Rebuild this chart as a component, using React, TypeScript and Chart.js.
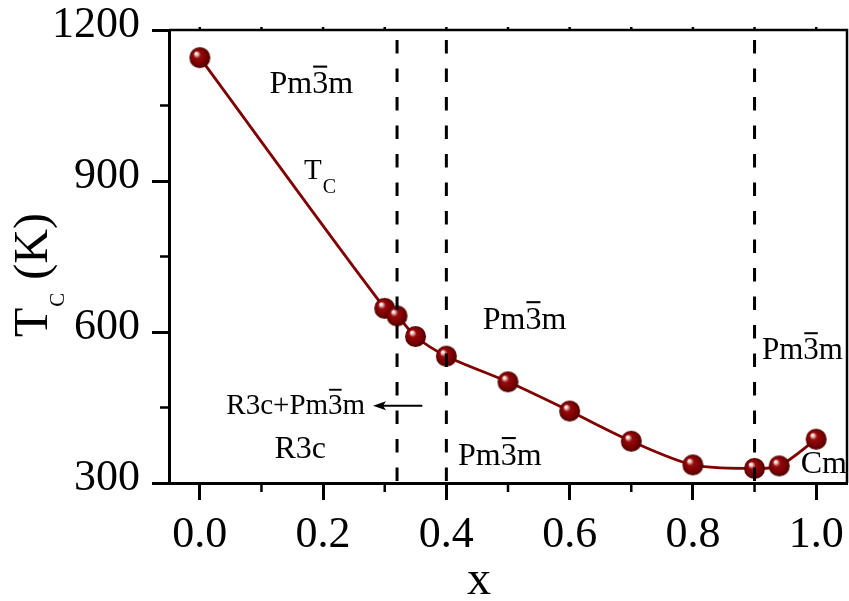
import { useEffect, useRef } from "react";
import { Chart, registerables } from "chart.js";

Chart.register(...registerables);

// Composition x and Curie temperature (K)
const compositionX = [0, 0.3, 0.32, 0.35, 0.4, 0.5, 0.6, 0.7, 0.8, 0.9, 0.94, 1.0];
const curieTemp = [1145, 647, 632, 591, 552, 501, 443, 383, 336, 329, 334, 387];

const xTicks = [0, 0.2, 0.4, 0.6, 0.8, 1.0];
const xMinorTicks = [0.1, 0.3, 0.5, 0.7, 0.9];
const yTicks = [300, 600, 900, 1200];
const yMinorTicks = [450, 750, 1050];

// Structural phase boundaries
const phaseBoundaries = [0.32, 0.4, 0.9];

const SERIF = '"Liberation Serif", "Times New Roman", serif';
const LINE_COLOR = "#800000";

function makeSphere(r: number): HTMLCanvasElement {
  const size = Math.ceil(r * 2) + 2;
  const c = document.createElement("canvas");
  c.width = size;
  c.height = size;
  const g = c.getContext("2d")!;
  const cx = size / 2;
  const cy = size / 2;
  const grad = g.createRadialGradient(cx - r * 0.38, cy - r * 0.42, r * 0.04, cx, cy, r);
  grad.addColorStop(0, "#ffffff");
  grad.addColorStop(0.12, "#f0c4c4");
  grad.addColorStop(0.32, "#960c0c");
  grad.addColorStop(0.75, "#780000");
  grad.addColorStop(1, "#480000");
  g.fillStyle = grad;
  g.beginPath();
  g.arc(cx, cy, r, 0, Math.PI * 2);
  g.fill();
  return c;
}

// "Pm3m" with a bar over the 3 (space group Pm-3m)
function drawPm3m(ctx: CanvasRenderingContext2D, x: number, y: number, size: number) {
  ctx.font = `${size}px ${SERIF}`;
  ctx.textAlign = "left";
  ctx.textBaseline = "alphabetic";
  const w1 = ctx.measureText("Pm").width;
  const w2 = ctx.measureText("3").width;
  ctx.fillText("Pm", x, y);
  ctx.fillText("3", x + w1, y);
  ctx.fillText("m", x + w1 + w2, y);
  ctx.fillRect(x + w1 + 1, y - size * 0.87, w2 - 2, Math.max(1.5, size * 0.065));
  return ctx.measureText("Pm3m").width;
}

const decorPlugin = {
  id: "decor",
  afterDatasetsDraw(chart: any) {
    const { ctx, chartArea: a, scales } = chart;
    const xs = scales.x;
    ctx.save();
    ctx.strokeStyle = "#000";
    ctx.lineWidth = 3;
    ctx.setLineDash([13.5, 15]);
    for (const b of phaseBoundaries) {
      const px = xs.getPixelForValue(b);
      ctx.beginPath();
      ctx.moveTo(px, a.top + 10);
      ctx.lineTo(px, a.bottom);
      ctx.stroke();
    }
    ctx.restore();
  },
  afterDraw(chart: any) {
    const { ctx, chartArea: a, scales } = chart;
    const xs = scales.x;
    const ys = scales.y;
    const X = (v: number) => xs.getPixelForValue(v);
    const Y = (v: number) => ys.getPixelForValue(v);
    ctx.save();
    ctx.strokeStyle = "#000";
    ctx.fillStyle = "#000";
    ctx.lineWidth = 2.5;
    ctx.setLineDash([]);

    // top and right frame
    ctx.beginPath();
    ctx.moveTo(a.left, a.top);
    ctx.lineTo(a.right, a.top);
    ctx.lineTo(a.right, a.bottom);
    ctx.stroke();

    // minor ticks
    ctx.beginPath();
    for (const v of xMinorTicks) {
      const px = X(v);
      ctx.moveTo(px, a.bottom);
      ctx.lineTo(px, a.bottom + 9);
    }
    for (const v of [...xTicks, ...xMinorTicks]) {
      const px = X(v);
      ctx.moveTo(px, a.top);
      ctx.lineTo(px, a.top - 3);
    }
    for (const v of yMinorTicks) {
      const py = Y(v);
      ctx.moveTo(a.left, py);
      ctx.lineTo(a.left - 9, py);
    }
    ctx.stroke();

    // axis titles
    ctx.textAlign = "left";
    ctx.textBaseline = "alphabetic";
    ctx.save();
    ctx.translate(47, 337);
    ctx.rotate(-Math.PI / 2);
    ctx.font = `48px ${SERIF}`;
    ctx.fillText("T", 0, 0);
    const tW = ctx.measureText("T").width;
    ctx.font = `21px ${SERIF}`;
    ctx.fillText("C", tW + 1, 17);
    const cW = ctx.measureText("C").width;
    ctx.font = `48px ${SERIF}`;
    ctx.fillText(" (K)", tW + cW + 2, 0);
    ctx.restore();

    ctx.font = `48px ${SERIF}`;
    ctx.textAlign = "center";
    ctx.fillText("x", 479, 594);

    // phase labels
    drawPm3m(ctx, X(0.113), Y(1074), 32);
    drawPm3m(ctx, X(0.459), Y(606), 32);
    drawPm3m(ctx, X(0.912), Y(546), 31);
    drawPm3m(ctx, X(0.419), Y(336), 32);

    ctx.font = `32px ${SERIF}`;
    ctx.textAlign = "left";
    ctx.fillText("R3c", X(0.121), Y(350));
    ctx.fillText("Cm", X(0.975), Y(320));

    ctx.font = `29px ${SERIF}`;
    const r3cX = X(0.043);
    ctx.fillText("R3c+", r3cX, Y(437));
    const r3cW = ctx.measureText("R3c+").width;
    drawPm3m(ctx, r3cX + r3cW, Y(437), 29);

    // T_C curve label
    ctx.font = `29px ${SERIF}`;
    ctx.fillText("T", X(0.169), Y(904));
    const tw = ctx.measureText("T").width;
    ctx.font = `20px ${SERIF}`;
    ctx.fillText("C", X(0.169) + tw + 1, Y(904) + 14);

    // arrow pointing to the mixed-phase region
    const ay = Y(453.6);
    const ax0 = X(0.361);
    const ax1 = X(0.281);
    ctx.lineWidth = 2;
    ctx.beginPath();
    ctx.moveTo(ax0, ay);
    ctx.lineTo(ax1 + 8, ay);
    ctx.stroke();
    ctx.beginPath();
    ctx.moveTo(ax1, ay);
    ctx.lineTo(ax1 + 13, ay - 4.5);
    ctx.lineTo(ax1 + 10, ay);
    ctx.lineTo(ax1 + 13, ay + 4.5);
    ctx.closePath();
    ctx.fill();

    ctx.restore();
  },
};

export default function App() {
  const canvasRef = useRef<HTMLCanvasElement | null>(null);

  useEffect(() => {
    const canvas = canvasRef.current;
    if (!canvas) return;
    const sphere = makeSphere(10.5);
    const points = compositionX.map((x, i) => ({ x, y: curieTemp[i] }));

    const chart = new Chart(canvas, {
      type: "line",
      data: {
        datasets: [
          {
            label: "TC",
            data: points,
            borderColor: LINE_COLOR,
            borderWidth: 2.8,
            tension: 0.3,
            pointStyle: sphere as any,
            pointRadius: 10.5,
            pointHoverRadius: 10.5,
            fill: false,
          },
        ],
      },
      options: {
        animation: false,
        responsive: false,
        maintainAspectRatio: false,
        events: [],
        layout: { autoPadding: false, padding: { top: 30, right: 2, left: 0, bottom: 0 } },
        plugins: {
          legend: { display: false },
          tooltip: { enabled: false },
          title: { display: false },
        },
        scales: {
          x: {
            type: "linear",
            min: -0.05,
            max: 1.05,
            afterBuildTicks: (s: any) => {
              s.ticks = xTicks.map((v) => ({ value: v }));
            },
            afterFit: (s: any) => {
              s.height = 118;
              s.paddingLeft = 0;
              s.paddingRight = 0;
              s.paddingTop = 0;
              s.paddingBottom = 0;
            },
            border: { display: true, color: "#000", width: 3 },
            grid: {
              drawOnChartArea: false,
              drawTicks: true,
              tickLength: 17,
              tickWidth: 3,
              tickColor: "#000",
            },
            ticks: {
              color: "#000",
              padding: 9,
              maxRotation: 0,
              autoSkip: false,
              font: { family: SERIF, size: 44 },
              callback: (v: any) => Number(v).toFixed(1),
            },
          },
          y: {
            type: "linear",
            min: 300,
            max: 1200,
            afterBuildTicks: (s: any) => {
              s.ticks = yTicks.map((v) => ({ value: v }));
            },
            afterFit: (s: any) => {
              s.width = 169;
              s.paddingLeft = 0;
              s.paddingRight = 0;
              s.paddingTop = 0;
              s.paddingBottom = 0;
            },
            border: { display: true, color: "#000", width: 3 },
            grid: {
              drawOnChartArea: false,
              drawTicks: true,
              tickLength: 17,
              tickWidth: 3,
              tickColor: "#000",
            },
            ticks: {
              color: "#000",
              padding: 12,
              labelOffset: -5,
              autoSkip: false,
              font: { family: SERIF, size: 44 },
              callback: (v: any) => String(v),
            },
          },
        },
      },
      plugins: [decorPlugin],
    });

    return () => chart.destroy();
  }, []);

  return (
    <div
      style={{
        position: "fixed",
        left: 0,
        top: 0,
        width: 849,
        height: 601,
        background: "#fff",
      }}
    >
      <canvas ref={canvasRef} width={849} height={601} />
    </div>
  );
}
